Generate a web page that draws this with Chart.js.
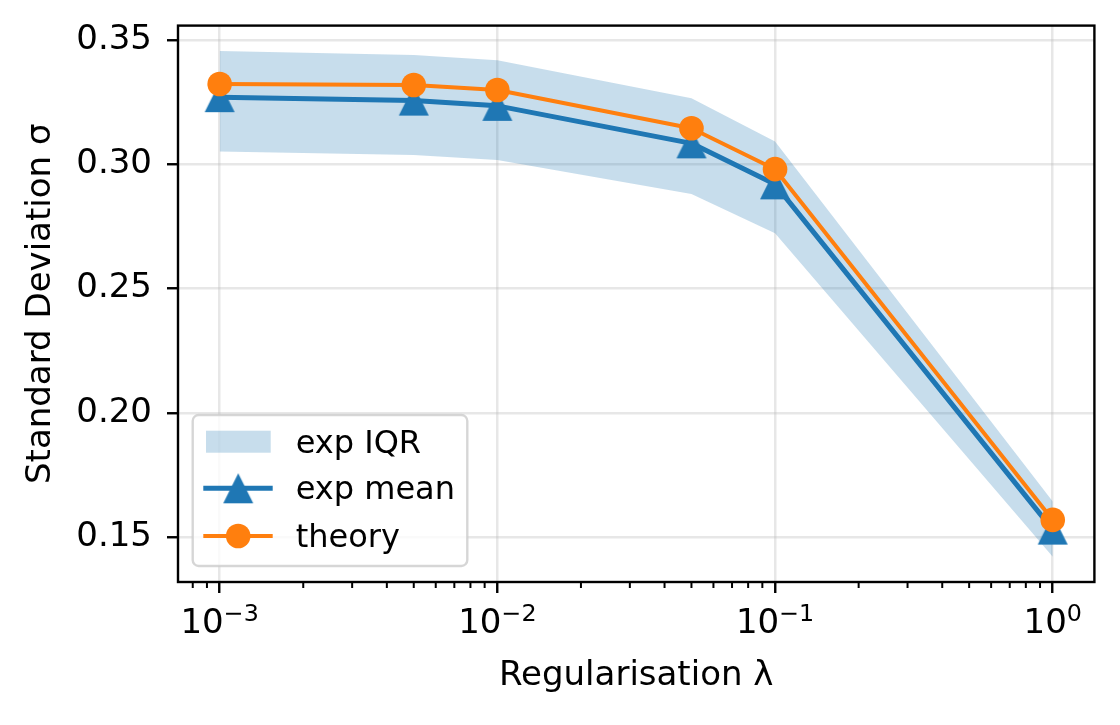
<!DOCTYPE html>
<html>
<head>
<meta charset="utf-8">
<script src="https://cdn.jsdelivr.net/npm/chart.js@4"></script>
<style>
  html, body { margin: 0; padding: 0; background: #fff; }
  #wrap { width: 1120px; height: 725px; }
</style>
</head>
<body>
<div id="wrap"><canvas id="chart"></canvas></div>
<script>
const lambdas = [0.001, 0.005, 0.01, 0.05, 0.1, 1];
const theory = [0.3324, 0.3320, 0.3300, 0.3146, 0.2981, 0.1569];
const expMean = [0.3271, 0.3257, 0.3236, 0.3085, 0.2920, 0.1530];
const iqrHigh = [0.3457, 0.3441, 0.3420, 0.3267, 0.3092, 0.1643];
const iqrLow = [0.3052, 0.3038, 0.3018, 0.2881, 0.2723, 0.1421];
const xMajorTicks = [0.001, 0.01, 0.1, 1];
const yTicks = [0.15, 0.20, 0.25, 0.30, 0.35];

const BLUE = "#1f77b4";
const ORANGE = "#ff7f0e";
const BAND = "rgba(31,119,180,0.25)";
const GRID = "rgba(176,176,176,0.3)";
const FONT = '"DejaVu Sans"';

Chart.defaults.font.family = FONT;
Chart.defaults.color = "#000";

function points(ys) {
  return lambdas.map((x, i) => ({ x, y: ys[i] }));
}

// matplotlib-style "^" marker: isoceles, centred on its box
function triangleMarker(size, color) {
  const c = document.createElement("canvas");
  c.width = size + 2;
  c.height = size + 2;
  const g = c.getContext("2d");
  g.fillStyle = color;
  g.beginPath();
  g.moveTo(c.width / 2, 1);
  g.lineTo(c.width - 1, c.height - 1);
  g.lineTo(1, c.height - 1);
  g.closePath();
  g.fill();
  return c;
}
const tri = triangleMarker(30, BLUE);

function roundRect(ctx, x, y, w, h, r) {
  ctx.beginPath();
  ctx.moveTo(x + r, y);
  ctx.arcTo(x + w, y, x + w, y + h, r);
  ctx.arcTo(x + w, y + h, x, y + h, r);
  ctx.arcTo(x, y + h, x, y, r);
  ctx.arcTo(x, y, x + w, y, r);
  ctx.closePath();
}

const decor = {
  id: "decor",
  afterDraw(chart) {
    const { ctx, chartArea: a } = chart;
    const xs = chart.scales.x;
    ctx.save();

    // spines
    ctx.strokeStyle = "#000";
    ctx.lineWidth = 2.4;
    ctx.strokeRect(a.left, a.top, a.right - a.left, a.bottom - a.top);

    // minor ticks on the log axis
    ctx.lineWidth = 2;
    for (let e = -4; e <= 0; e++) {
      for (let k = 2; k <= 9; k++) {
        const v = k * Math.pow(10, e);
        if (v < xs.min || v > xs.max) continue;
        const px = xs.getPixelForValue(v);
        ctx.beginPath();
        ctx.moveTo(px, a.bottom);
        ctx.lineTo(px, a.bottom + 6);
        ctx.stroke();
      }
    }

    // x tick labels as 10 with a raised exponent
    const big = "34px " + FONT, small = "23.8px " + FONT;
    ctx.fillStyle = "#000";
    ctx.textAlign = "left";
    ctx.textBaseline = "alphabetic";
    xs.ticks.forEach(t => {
      const px = xs.getPixelForValue(t.value);
      const e = Math.round(Math.log10(t.value));
      const sup = e < 0 ? "\u2212" + (-e) : String(e);
      ctx.font = big;
      const wb = ctx.measureText("10").width;
      ctx.font = small;
      const ws = ctx.measureText(sup).width;
      const x0 = px - (wb + ws) / 2;
      ctx.font = big;
      ctx.fillText("10", x0, a.bottom + 51);
      ctx.font = small;
      ctx.fillText(sup, x0 + wb, a.bottom + 38.5);
    });

    // legend box
    const lw = 274.6, lh = 151;
    const lx = a.left + 14.7, ly = a.bottom - 16 - lh;
    roundRect(ctx, lx, ly, lw, lh, 6);
    ctx.fillStyle = "rgba(255,255,255,0.8)";
    ctx.fill();
    ctx.strokeStyle = "rgba(204,204,204,0.8)";
    ctx.lineWidth = 2.4;
    ctx.stroke();

    const rows = [ly + 26.7, ly + 73.3, ly + 121];
    const hx0 = lx + 10.6, hx1 = lx + 80, hc = lx + 45.5;
    const labels = chart.data.datasets.filter(d => d.legendRow !== undefined);
    labels.forEach(d => {
      const y = rows[d.legendRow];
      if (d.legendRow === 0) {
        ctx.fillStyle = BAND;
        ctx.fillRect(lx + 13.3, y - 11, 64.7, 22);
      } else {
        ctx.strokeStyle = d.borderColor;
        ctx.lineWidth = d.borderWidth;
        ctx.beginPath();
        ctx.moveTo(hx0, y);
        ctx.lineTo(hx1, y);
        ctx.stroke();
        if (d.legendRow === 1) {
          ctx.drawImage(tri, hc - tri.width / 2, y - tri.height / 2);
        } else {
          ctx.fillStyle = d.pointBackgroundColor;
          ctx.beginPath();
          ctx.arc(hc, y, 12.3, 0, Math.PI * 2);
          ctx.fill();
        }
      }
      ctx.fillStyle = "#000";
      ctx.font = "32px " + FONT;
      ctx.fillText(d.label, lx + 103, y + 11);
    });
    ctx.restore();
  }
};

new Chart(document.getElementById("chart"), {
  type: "line",
  data: {
    datasets: [
      {
        label: "exp IQR", legendRow: 0, data: points(iqrHigh), order: 2,
        borderWidth: 0, pointRadius: 0, backgroundColor: BAND, fill: "+1"
      },
      {
        label: "iqr low", data: points(iqrLow), order: 3,
        borderWidth: 0, pointRadius: 0, fill: false
      },
      {
        label: "exp mean", legendRow: 1, data: points(expMean), order: 1,
        borderColor: BLUE, borderWidth: 5, borderJoinStyle: "round",
        pointStyle: tri, pointRadius: 15, pointBackgroundColor: BLUE, pointBorderWidth: 0, fill: false
      },
      {
        label: "theory", legendRow: 2, data: points(theory), order: 0,
        borderColor: ORANGE, borderWidth: 4, borderJoinStyle: "round",
        pointStyle: "circle", pointRadius: 12.3, pointBackgroundColor: ORANGE, pointBorderWidth: 0, fill: false
      }
    ]
  },
  options: {
    responsive: true,
    maintainAspectRatio: false,
    animation: false,
    events: [],
    layout: { padding: { top: 25.6, right: 25.6, left: 0, bottom: 0 } },
    plugins: { legend: { display: false }, tooltip: { enabled: false } },
    scales: {
      x: {
        type: "logarithmic",
        min: Math.pow(10, -3.15),
        max: Math.pow(10, 0.15),
        afterBuildTicks: s => { s.ticks = xMajorTicks.map(v => ({ value: v })); },
        afterFit: s => { s.height = 143; s.paddingLeft = 0; s.paddingRight = 0; },
        ticks: { display: false },
        grid: { color: GRID, lineWidth: 2.5, tickColor: "#000", tickLength: 11, tickWidth: 2.4 },
        border: { display: false },
        title: {
          display: true, text: "Regularisation λ", color: "#000",
          font: { size: 34 }, padding: { top: 0, bottom: 28.6 }
        }
      },
      y: {
        type: "linear",
        min: 0.1319,
        max: 0.3559,
        afterBuildTicks: s => { s.ticks = yTicks.map(v => ({ value: v })); },
        afterFit: s => { s.width = 178; s.paddingTop = 0; s.paddingBottom = 0; },
        ticks: { font: { size: 34 }, color: "#000", padding: 15, callback: v => v.toFixed(2) },
        grid: { color: GRID, lineWidth: 2.5, tickColor: "#000", tickLength: 11, tickWidth: 2.4 },
        border: { display: false },
        title: {
          display: true, text: "Standard Deviation σ", color: "#000",
          font: { size: 34 }, padding: { top: 21, bottom: 0 }
        }
      }
    }
  },
  plugins: [decor]
});
</script>
</body>
</html>
